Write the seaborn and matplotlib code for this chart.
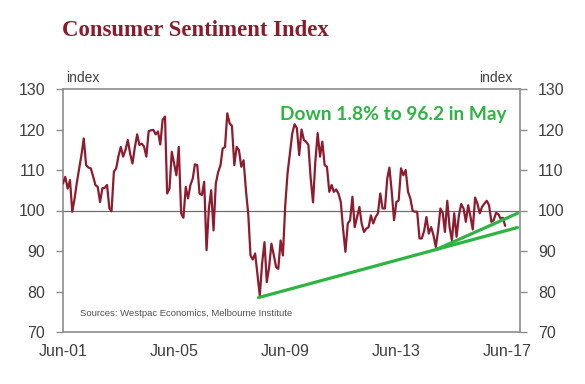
import numpy as np
import pandas as pd
import matplotlib
matplotlib.use("Agg")
import matplotlib.pyplot as plt
import matplotlib.dates as mdates
import seaborn as sns

# ---- data (monthly, Jun-2001 .. May-2017) ----
start_month = "2001-06-01"
sentiment = [
    106.7, 108.3, 105.4, 107.5, 99.7, 103.0, 107.0, 110.5, 114.0, 117.8,
    111.2, 110.6, 110.4, 108.5, 106.3, 105.8, 102.1, 105.5, 105.6, 106.3,
    100.5, 99.8, 109.6, 110.4, 113.5, 115.7, 113.3, 115.0, 117.4, 114.0,
    111.6, 115.5, 118.8, 116.2, 116.5, 115.8, 113.3, 119.6, 119.8, 119.9,
    118.8, 119.5, 116.3, 122.4, 123.2, 104.2, 105.4, 114.5, 111.5, 108.7,
    115.7, 99.3, 98.2, 105.8, 103.0, 106.3, 107.9, 111.4, 111.2, 104.2,
    103.8, 107.1, 90.2, 100.5, 105.0, 95.1, 106.7, 109.5, 111.2, 115.3,
    115.7, 124.0, 121.5, 120.9, 111.2, 115.7, 114.9, 110.8, 112.4, 105.0,
    99.0, 88.9, 87.9, 89.4, 84.0, 79.0, 87.0, 92.2, 82.3, 86.0,
    91.8, 89.0, 86.0, 85.6, 92.6, 88.9, 101.3, 109.2, 114.0, 119.0,
    121.3, 120.3, 113.7, 120.0, 117.4, 117.0, 116.2, 108.0, 102.0, 112.0,
    119.1, 113.3, 117.0, 111.2, 110.8, 104.6, 106.3, 104.6, 105.2, 104.2,
    102.1, 95.5, 89.8, 96.8, 97.6, 103.4, 95.9, 98.4, 100.9, 96.8,
    94.7, 95.5, 95.9, 98.8, 96.8, 98.4, 99.3, 104.2, 100.5, 100.5,
    107.9, 110.6, 104.6, 97.6, 102.1, 102.5, 110.4, 108.7, 110.0, 104.6,
    103.0, 99.9, 99.7, 99.7, 93.1, 93.1, 95.0, 98.4, 94.3, 95.9,
    93.9, 91.0, 95.0, 100.5, 99.3, 94.7, 102.4, 95.9, 92.6, 99.3,
    93.5, 98.8, 101.6, 100.5, 97.2, 101.3, 98.4, 95.3, 103.2, 101.7,
    99.3, 100.9, 101.7, 102.4, 101.3, 97.2, 97.6, 99.4, 99.1, 98.0,
    98.2, 96.2,
]
trend1_dates = ["2008-06-15", "2017-10-10"]
trend1_vals = [78.5, 95.8]
trend2_dates = ["2014-11-10", "2017-10-10"]
trend2_vals = [90.4, 99.3]

y_ticks = [70, 80, 90, 100, 110, 120, 130]
x_tick_dates = ["2001-06-01", "2003-06-01", "2005-06-01", "2007-06-01", "2009-06-01",
                "2011-06-01", "2013-06-01", "2015-06-01", "2017-06-01"]
x_tick_labels = ["Jun-01", "", "Jun-05", "", "Jun-09", "", "Jun-13", "", "Jun-17"]

title = "Consumer Sentiment Index"
annotation = "Down 1.8% to 96.2 in May"
source = "Sources: Westpac Economics, Melbourne Institute"

# ---- build frames ----
dates = pd.date_range(start_month, periods=len(sentiment), freq="MS")
df = pd.DataFrame({"date": dates, "value": sentiment})
t1 = pd.DataFrame({"date": pd.to_datetime(trend1_dates), "value": trend1_vals})
t2 = pd.DataFrame({"date": pd.to_datetime(trend2_dates), "value": trend2_vals})

sns.set_style("white")
plt.rcParams["font.family"] = ["Liberation Sans", "DejaVu Sans"]

red = "#8E1B2E"
green = "#2DB443"
grey_text = "#404040"
axis_grey = "#8C8C8C"

fig = plt.figure(figsize=(5.85, 3.84), dpi=100)
ax = fig.add_axes([63/585, 1-332/384, (520-63)/585, (332-89)/384])

ax.axhline(100, color="#6E6E6E", lw=0.9, zorder=1)
sns.lineplot(data=df, x="date", y="value", ax=ax, color=red, lw=1.6, zorder=3)
sns.lineplot(data=t1, x="date", y="value", ax=ax, color=green, lw=2.3, zorder=4)
sns.lineplot(data=t2, x="date", y="value", ax=ax, color=green, lw=2.3, zorder=4)

ax.set_ylim(70, 130)
ax.set_xlim(pd.Timestamp("2001-06-01"), pd.Timestamp("2017-11-12"))
ax.set_yticks(y_ticks)
ax.set_yticklabels([str(v) for v in y_ticks])
ax.set_xticks(pd.to_datetime(x_tick_dates))
ax.set_xticklabels(x_tick_labels)
ax.set_xlabel("")
ax.set_ylabel("")

for s in ax.spines.values():
    s.set_visible(True)
    s.set_color(axis_grey)
    s.set_linewidth(1.2)

ax.tick_params(axis="y", which="both", left=True, right=True, labelleft=True,
               labelright=True, direction="out", length=5, width=1,
               color=axis_grey, labelsize=11.5, labelcolor=grey_text, pad=8)
ax.tick_params(axis="x", direction="in", length=4, width=1, color=axis_grey,
               labelsize=11.5, labelcolor=grey_text, pad=9)

fig.text(62/585, 1-31/384, title, fontsize=16.4, fontweight="bold",
         family=["Liberation Serif"], color="#8B1A2B", va="center", ha="left")
fig.text(66/585, 1-78/384, "index", fontsize=10, color=grey_text, va="center", ha="left")
fig.text(512/585, 1-78/384, "index", fontsize=10, color=grey_text, va="center", ha="right")
ax.text(0.475, 0.895, annotation, transform=ax.transAxes, fontsize=13.8,
        fontweight="bold", family=["Lato", "DejaVu Sans"], color=green,
        va="center", ha="left")
ax.text(0.037, 0.078, source, transform=ax.transAxes, fontsize=6.8,
        color="#505050", va="center", ha="left")

fig.savefig("out.png", dpi=100)
